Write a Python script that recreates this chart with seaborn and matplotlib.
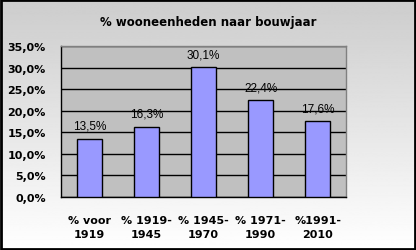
import numpy as np
import pandas as pd
import matplotlib
matplotlib.use("Agg")
import matplotlib.pyplot as plt
import seaborn as sns
from matplotlib.ticker import FuncFormatter, FixedLocator
from matplotlib.patches import Rectangle

# data
categories = ["% voor\n1919", "% 1919-\n1945", "% 1945-\n1970", "% 1971-\n1990", "%1991-\n2010"]
values = [13.5, 16.3, 30.1, 22.4, 17.6]
title = "% wooneenheden naar bouwjaar"

df = pd.DataFrame({"periode": categories, "aandeel": values})

sns.set_style("white")
plt.rcParams["font.family"] = ["DejaVu Sans"]
plt.rcParams["text.color"] = "black"
plt.rcParams["xtick.color"] = "black"
plt.rcParams["ytick.color"] = "black"

fig = plt.figure(figsize=(4.16, 2.51), dpi=100)

# gradient background (light grey at top, white at bottom)
bg = fig.add_axes([0, 0, 1, 1], zorder=-10)
grad = np.linspace(0.80, 1.0, 256).reshape(-1, 1)
bg.imshow(grad, aspect="auto", cmap="gray", vmin=0, vmax=1, extent=[0, 1, 0, 1], origin="upper")
bg.set_axis_off()

ax = fig.add_axes([0.1466, 0.211, 0.6855, 0.602])
ax.set_facecolor("#C0C0C0")

sns.barplot(data=df, x="periode", y="aandeel", color="#9999FF", edgecolor="black",
            linewidth=1, width=0.44, saturation=1, ax=ax, zorder=3)

ax.set_ylim(0, 35)
ax.set_xlim(-0.5, 4.5)
ax.set_yticks(np.arange(0, 36, 5))
ax.yaxis.set_major_formatter(FuncFormatter(lambda v, p: f"{v:.1f}%".replace(".", ",")))
ax.grid(axis="y", color="black", linewidth=1, zorder=0)
ax.set_axisbelow(True)

ax.set_xlabel("")
ax.set_ylabel("")
ax.xaxis.set_minor_locator(FixedLocator(np.arange(-0.5, 5, 1)))
ax.tick_params(axis="x", which="major", length=0, pad=13, labelsize=8)
ax.tick_params(axis="x", which="minor", length=4, width=1, color="black", direction="out")
ax.tick_params(axis="y", length=4, width=1, color="black", direction="out", labelsize=8, pad=7)
for lbl in ax.get_xticklabels() + ax.get_yticklabels():
    lbl.set_fontweight("bold")
for lbl in ax.get_xticklabels():
    lbl.set_linespacing(1.45)

for s in ["left", "bottom"]:
    ax.spines[s].set_color("black")
    ax.spines[s].set_linewidth(1)
for s in ["top", "right"]:
    ax.spines[s].set_color("#808080")
    ax.spines[s].set_linewidth(1)

for i, v in enumerate(values):
    ax.annotate(f"{v:.1f}%".replace(".", ","), (i, v), xytext=(0, 5), textcoords="offset points",
                ha="center", va="bottom", fontsize=8.5, family="Liberation Sans", color="black")

fig.text(0.5, 0.912, title, ha="center", va="center", fontsize=8.5, fontweight="bold")

fig.patches.append(Rectangle((0.002, 0.003), 0.995, 0.993, transform=fig.transFigure,
                             fill=False, edgecolor="black", linewidth=2))

fig.savefig("out.png", dpi=100)
